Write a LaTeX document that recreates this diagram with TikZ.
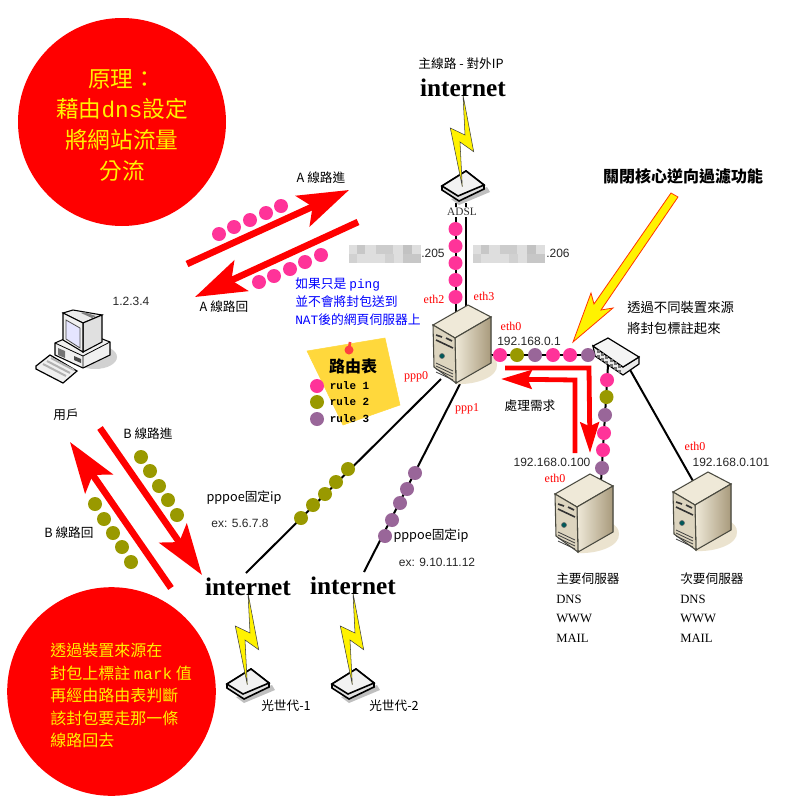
\documentclass[tikz,border=0pt]{standalone}
\usepackage{fontspec}
\usepackage{xcolor}
\setmainfont{Noto Sans CJK TC}
\setsansfont{Liberation Sans}
\setmonofont{Liberation Mono}
\newfontfamily\latinserif{Liberation Serif}
\definecolor{rulepink}{HTML}{FF3399}
\definecolor{ruleolive}{HTML}{999900}
\definecolor{rulepurple}{HTML}{996699}
\definecolor{notecolor}{HTML}{FFD83C}
\definecolor{srvlight}{HTML}{EFE9D8}
\definecolor{srvmid}{HTML}{DDD5BF}
\definecolor{srvdark}{HTML}{A89A7C}
\definecolor{srvshadow}{HTML}{EBE3CF}
\definecolor{srvline}{HTML}{4A4A40}
\usetikzlibrary{arrows.meta}
\usetikzlibrary{positioning}
\usetikzlibrary{calc}
\tikzset{
	pinkdot/.style={circle, fill=rulepink, inner sep=0, minimum size=10.5pt},
	olivedot/.style={circle, fill=ruleolive, inner sep=0, minimum size=10.5pt},
	purpledot/.style={circle, fill=rulepurple, inner sep=0, minimum size=10.5pt},
	wire/.style={line width=1.5pt, black},
	linkarrow/.style={red, line width=5pt, -{Stealth[length=38pt, width=25pt, inset=8pt]}},
	procarrow/.style={red, line width=3.6pt, miter limit=10, -{Stealth[length=23pt, width=14pt, inset=3pt]}},
	bigcircle/.style={circle, fill=red, inner sep=0},
	cjklabel/.style={font=\fontsize{9.5}{12}\selectfont, inner sep=0},
	netlabel/.style={font=\sffamily\fontsize{9}{11}\selectfont, text=black!85, inner sep=0},
	ethlabel/.style={font=\latinserif\fontsize{9}{11}\selectfont, text=red, inner sep=0},
	inetlabel/.style={font=\latinserif\bfseries\fontsize{19}{22}\selectfont, inner sep=0},
	bluelabel/.style={font=\fontsize{9.6}{13.5}\selectfont, text=blue, align=left, inner sep=0},
	specslabel/.style={font=\fontsize{9.5}{14.6}\selectfont, align=left, inner sep=0},
	rulelabel/.style={font=\ttfamily\bfseries\fontsize{8.2}{10}\selectfont, inner sep=0},
	pics/inetlink/.style={code={
		\fill[black!25] (-12,104) -- (24,92) -- (27,97) -- (-4,110) -- cycle;
		\filldraw[black!12, draw=black, line width=1.2pt] (-21,91) -- (-21,95) -- (-4,106) -- (21,94) -- (21,90) -- (3,76) -- cycle;
		\filldraw[black!5, draw=black, line width=1.2pt] (-21,91) -- (3,76) -- (21,90) -- (-5,101) -- cycle;
		\filldraw[fill=yellow, draw=black!75, line width=.4pt] (0,0) -- (10.7,56.7) -- (-3,47) -- (-.7,91.7) -- (-12.7,33) -- (2,40) -- cycle;
	}},
	pics/server/.style={code={
		\fill[srvshadow] (-12,79) .. controls (8,80) and (30,72) .. (29,60) .. controls (29,55) and (26,52) .. (23,50) -- cycle;
		\filldraw[srvlight, draw=srvline, line width=.8pt] (0,0) -- (23,12) -- (-13,33) -- (-35,20) -- cycle;
		\filldraw[left color=srvlight, right color=srvdark, draw=srvline, line width=.8pt] (-13,33) -- (23,12) -- (23,58) -- (-12,78) -- cycle;
		\filldraw[srvmid, draw=srvline, line width=.8pt] (-35,20) -- (-13,33) -- (-12,78) -- (-34,62) -- cycle;
		\draw[black!80, line width=1.2pt] (-32,30) -- (-26,32) (-22,33) -- (-16,36);
		\draw[black!80, line width=1.2pt] (-32,35) -- (-15,43);
		\filldraw[fill=teal!70!black, draw=black!60] (-26,51) circle (2.5);
		\draw[black!75, line width=.6pt] (-32,58) -- (-15,66) (-32,61) -- (-15,69) (-32,64) -- (-15,72) (-32,67) -- (-15,75);
	}},
	pics/blurbox/.style={code={
		\fill[black!13] (0,0) rectangle (72,18);
		\fill[black!22] (8,0) rectangle (16,9);
		\fill[black!20] (27,0) rectangle (44,9);
		\fill[black!24] (54,0) rectangle (63,9);
		\fill[black!18] (0,9) rectangle (8,18);
		\fill[black!18] (36,9) rectangle (45,18);
		\fill[black!22] (54,9) rectangle (72,18);
	}},
}

\begin{document}
\begin{tikzpicture}[x=.75pt, y=-.75pt]
\useasboundingbox (0,0) rectangle (800,800);

% connection points
\coordinate (adslL) at (455.5,203);
\coordinate (adslR) at (466.3,203);
\coordinate (gwL) at (455.5,315);
\coordinate (gwR) at (466.3,310);
\coordinate (gwE) at (485,355);
\coordinate (swW) at (600,355);
\coordinate (swS) at (608,365);
\coordinate (swE) at (629,368);
\coordinate (srv1T) at (601,482);
\coordinate (srv2T) at (693,481);
\coordinate (gwP0) at (441,379);
\coordinate (gwP1) at (460,384);
\coordinate (inet2T) at (246,573);
\coordinate (inet3T) at (364,572);

\draw[wire] (adslL) -- (gwL);
\draw[wire] (adslR) -- (gwR);
\draw[wire] (gwE) -- (swW);
\draw[wire] (swS) -- (srv1T);
\draw[wire] (swE) -- (srv2T);
\draw[wire] (gwP0) -- (inet2T);
\draw[wire] (gwP1) -- (inet3T);

% circles
\node(topcircle)[bigcircle, minimum size=156pt] at (122,122) {};
\node(bottomcircle)[bigcircle, minimum size=156.5pt] at (111.5,691.5) {};
\node(toptext)[font=\fontsize{17}{23}\selectfont, text=yellow, align=center, inner sep=0] at (122,125) {原理：\\藉由\texttt{dns}設定\\將網站流量\\分流};
\node(bottomtext)[font=\fontsize{12}{16.9}\selectfont, text=yellow, align=left, inner sep=0, anchor=north west] at (50,643) {透過裝置來源在\\封包上標註 \texttt{mark} 值\\再經由路由表判斷\\該封包要走那一條\\線路回去};

% internet links
\pic at (463,95) {inetlink};
\pic at (248,593) {inetlink};
\pic at (353,593) {inetlink};
\node(inet1)[inetlabel] at (463,88) {internet};
\node(inet2)[inetlabel] at (248,587) {internet};
\node(inet3)[inetlabel] at (353,586) {internet};
\node(mainline)[cjklabel] at (461,64) {主線路 - 對外IP};
\node(adsl)[font=\latinserif\fontsize{8.5}{10}\selectfont, text=black!80, inner sep=1pt, fill=white] at (462,212) {ADSL};
\node(fiber1)[cjklabel] at (286,706) {光世代-1};
\node(fiber2)[cjklabel] at (394,706) {光世代-2};

% servers
\pic at (468,305) {server};
\pic at (590,474) {server};
\pic at (708,472) {server};

% switch
\filldraw[black!8, draw=black, line width=.9pt] (623,367) -- (639,357) -- (639,364) -- (623,375) -- (595,356) -- (593,346) -- cycle;
\filldraw[black!4, draw=black, line width=.9pt] (593,346) -- (608,338) -- (639,357) -- (623,367) -- cycle;
\foreach \i in {0,1,2,3,4,5}{
	\fill[black!55] ($(597,350)+(4.2*\i,2.9*\i)$) rectangle ++(3,3);
	\fill[black!55] ($(597,355)+(4.2*\i,2.9*\i)$) rectangle ++(3,3);
}

% user
\fill[black!18] (95,357) ellipse (22 and 12);
\filldraw[black!6, draw=black, line width=.8pt] (55,343) -- (55,355) -- (83,368) -- (110,355) -- (110,342) -- (82,331) -- cycle;
\draw[black, line width=.6pt] (55,343) -- (83,356) -- (110,342) (83,356) -- (83,368);
\fill[black!55] (58,348) -- (65,351) -- (65,358) -- (58,355) -- cycle;
\fill[black!70] (74,356) -- (81,359) -- (81,363) -- (74,360) -- cycle;
\filldraw[black!8, draw=black, line width=.8pt] (63,313) -- (73,310) -- (102,315) -- (83,323) -- cycle;
\fill[black!50] (81,313) -- (84,312) -- (96,316) -- (92,318) -- cycle;
\filldraw[black!12, draw=black, line width=.8pt] (83,323) -- (102,315) -- (102,342) -- (83,352) -- cycle;
\filldraw[black!6, draw=black, line width=.8pt] (63,313) -- (83,323) -- (83,352) -- (63,340) -- cycle;
\filldraw[blue!10, draw=black!70, line width=.6pt] (66,320) -- (80,328) -- (80,348) -- (66,339) -- cycle;
\filldraw[black!6, draw=black, line width=.9pt] (36,366) -- (50,355) -- (77,371) -- (63,383) -- (36,369) -- cycle;
\draw[black!30, line width=1.5pt] (43,364) -- (66,376) (47,361) -- (70,373) (51,358) -- (74,370);
\node(userip)[netlabel] at (131,301) {1.2.3.4};
\node(user)[cjklabel] at (66,415) {用戶};

% note
\filldraw[notecolor] (307,351) -- (385,338) -- (400,405) -- (343,425) -- cycle;
\fill[red!75!white] (349,350) circle (4.5);
\draw[red!75!white, line width=2pt] (349,350) -- (350,342);
\node(notetitle)[font=\bfseries\fontsize{12}{14}\selectfont, inner sep=0] at (353,366) {路由表};
\node(noterule1)[pinkdot] at (317,386) {};
\node(noterule2)[olivedot] at (317,402) {};
\node(noterule3)[purpledot] at (317,419) {};
\node(rulename1)[rulelabel, right=4pt of noterule1] {rule 1};
\node(rulename2)[rulelabel, right=4pt of noterule2] {rule 2};
\node(rulename3)[rulelabel, right=4pt of noterule3] {rule 3};

% line A and B arrows
\coordinate (ainS) at (187,264);
\coordinate (ainE) at (349,190);
\coordinate (aoutS) at (358,222);
\coordinate (aoutE) at (195,297);
\coordinate (binS) at (100,428);
\coordinate (binE) at (202,575);
\coordinate (boutS) at (171,588);
\coordinate (boutE) at (70,442);
\draw[linkarrow] (ainS) -- (ainE);
\draw[linkarrow] (aoutS) -- (aoutE);
\draw[linkarrow] (binS) -- (binE);
\draw[linkarrow] (boutS) -- (boutE);

\node(ain1)[pinkdot] at (219,234) {};
\node(ain2)[pinkdot] at (234,227) {};
\node(ain3)[pinkdot] at (250,220) {};
\node(ain4)[pinkdot] at (266,213) {};
\node(ain5)[pinkdot] at (281,206) {};
\node(aout1)[pinkdot] at (259,282) {};
\node(aout2)[pinkdot] at (274,276) {};
\node(aout3)[pinkdot] at (290,269) {};
\node(aout4)[pinkdot] at (305,262) {};
\node(aout5)[pinkdot] at (321,255) {};
\node(bin1)[olivedot] at (141,457) {};
\node(bin2)[olivedot] at (150,471) {};
\node(bin3)[olivedot] at (159,486) {};
\node(bin4)[olivedot] at (168,500) {};
\node(bin5)[olivedot] at (177,515) {};
\node(bout1)[olivedot] at (95,504) {};
\node(bout2)[olivedot] at (104,519) {};
\node(bout3)[olivedot] at (113,533) {};
\node(bout4)[olivedot] at (122,547) {};
\node(bout5)[olivedot] at (131,562) {};

\node(ainlabel)[cjklabel] at (321,178) {A 線路進};
\node(aoutlabel)[cjklabel] at (224,307) {A 線路回};
\node(binlabel)[cjklabel] at (148,434) {B 線路進};
\node(boutlabel)[cjklabel] at (69,533) {B 線路回};

% dots on the wires
\node(adsl1)[pinkdot] at (455.5,229) {};
\node(adsl2)[pinkdot] at (455.5,246) {};
\node(adsl3)[pinkdot] at (455.5,263) {};
\node(adsl4)[pinkdot] at (455.5,280) {};
\node(adsl5)[pinkdot] at (455.5,297) {};
\node(lan1)[pinkdot] at (500,355) {};
\node(lan2)[olivedot] at (517,355) {};
\node(lan3)[purpledot] at (535,355) {};
\node(lan4)[pinkdot] at (553,355) {};
\node(lan5)[pinkdot] at (570,355) {};
\node(lan6)[purpledot] at (588,355) {};
\node(srv1)[pinkdot] at (607,380) {};
\node(srv2)[olivedot] at (606.5,397) {};
\node(srv3)[purpledot] at (605,415) {};
\node(srv4)[pinkdot] at (604,433) {};
\node(srv5)[pinkdot] at (603,450) {};
\node(srv6)[purpledot] at (602,468) {};
\node(ppp01)[olivedot] at (348,469) {};
\node(ppp02)[olivedot] at (336,482) {};
\node(ppp03)[olivedot] at (325,494) {};
\node(ppp04)[olivedot] at (313,505) {};
\node(ppp05)[olivedot] at (301,518) {};
\node(ppp11)[purpledot] at (415,473) {};
\node(ppp12)[purpledot] at (407,489) {};
\node(ppp13)[purpledot] at (400,503) {};
\node(ppp14)[purpledot] at (392,520) {};
\node(ppp15)[purpledot] at (385,536) {};

% public addresses
\pic at (349,245) {blurbox};
\pic at (473,245) {blurbox};
\node(ip205)[netlabel, anchor=west] at (421,253) {.205};
\node(ip206)[netlabel, anchor=west] at (546,253) {.206};

% interface labels
\node(eth2)[ethlabel] at (434,299) {eth2};
\node(eth3)[ethlabel] at (484,296) {eth3};
\node(eth0gw)[ethlabel] at (511,326) {eth0};
\node(eth0one)[ethlabel] at (555,478) {eth0};
\node(eth0two)[ethlabel] at (695,446) {eth0};
\node(ppp0)[ethlabel] at (416,377) {ppp0};
\node(ppp1)[ethlabel] at (467,409) {ppp1};
\node(gwip)[netlabel] at (529,341) {192.168.0.1};
\node(srvip1)[netlabel] at (552,462) {192.168.0.100};
\node(srvip2)[netlabel] at (731,462) {192.168.0.101};

\node(pinginfo)[bluelabel, anchor=north west] at (295,277.5) {如果只是 \texttt{ping}\\並不會將封包送到\\\texttt{NAT}後的網頁伺服器上};

\node(ppp0info)[cjklabel] at (244,498) {pppoe固定ip};
\node(ppp0ex)[netlabel] at (240,523) {ex: 5.6.7.8};
\node(ppp1info)[cjklabel] at (431,536) {pppoe固定ip};
\node(ppp1ex)[netlabel] at (437,562) {ex: 9.10.11.12};

\node(markinfo)[font=\fontsize{10}{15.7}\selectfont, align=left, inner sep=0, anchor=north west] at (627,301) {透過不同裝置來源\\將封包標註起來};
\node(rpfilter)[font=\bfseries\fontsize{12}{14}\selectfont, inner sep=0] at (683,176) {關閉核心逆向過濾功能};
\filldraw[fill=yellow, draw=red!80!yellow, line width=.6pt] (671,193) -- (678,197) -- (601,310) -- (613,308) -- (573,342) -- (591,293) -- (594,304) -- cycle;

% request path
\coordinate (reqA) at (505,368);
\coordinate (reqB) at (589,368);
\coordinate (reqC) at (590,453);
\coordinate (ansA) at (575,453);
\coordinate (ansB) at (575,380);
\coordinate (ansC) at (501,379);
\draw[procarrow] (reqA) -- (reqB) -- (reqC);
\draw[procarrow] (ansA) -- (ansB) -- (ansC);
\node(reqlabel)[cjklabel] at (530,406) {處理需求};

\node(srvspec1)[specslabel, anchor=north west] at (556,573) {主要伺服器\\{\latinserif DNS}\\{\latinserif WWW}\\{\latinserif MAIL}};
\node(srvspec2)[specslabel, anchor=north west] at (680,573) {次要伺服器\\{\latinserif DNS}\\{\latinserif WWW}\\{\latinserif MAIL}};
\end{tikzpicture}
\end{document}
